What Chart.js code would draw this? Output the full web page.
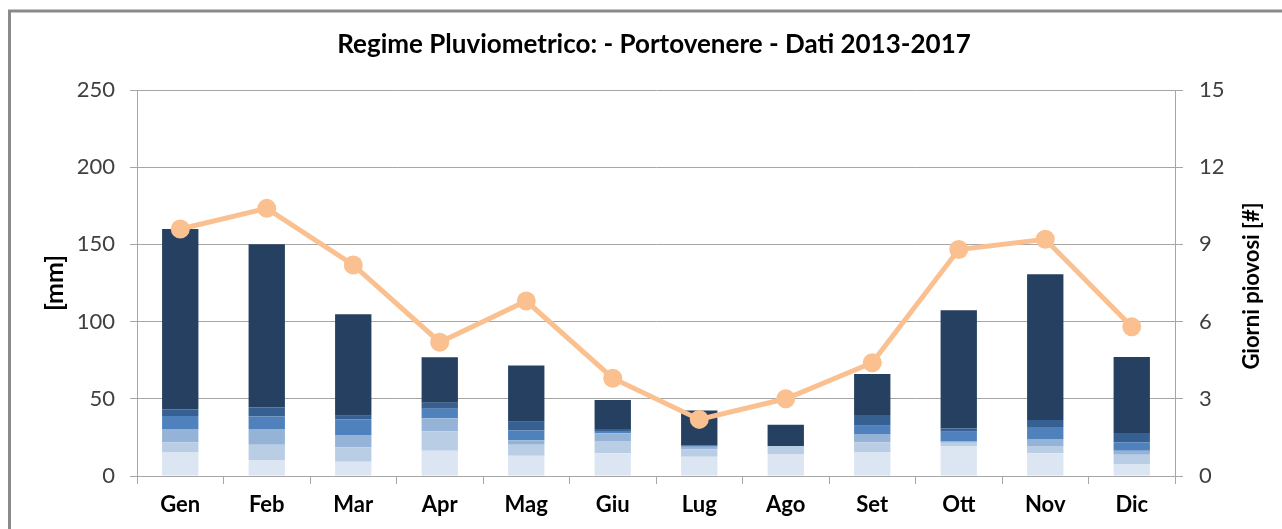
<!DOCTYPE html>
<html>
<head>
<meta charset="utf-8">
<script src="https://cdn.jsdelivr.net/npm/chart.js@4.4.1/dist/chart.umd.min.js"></script>
<style>
  html, body { margin: 0; padding: 0; background: #ffffff; }
  #wrap { position: relative; width: 1282px; height: 529px; }
</style>
</head>
<body>
<div id="wrap"><canvas id="c"></canvas></div>
<script>
// ---- Data ----
const months = ['Gen','Feb','Mar','Apr','Mag','Giu','Lug','Ago','Set','Ott','Nov','Dic'];

// stacked rainfall components [mm], bottom (lightest) to top (darkest)
const rainClass1 = [15.5, 10.4, 9.3, 16.4, 13.1, 14.7, 12.5, 14.2, 15.5, 19.4, 14.7, 7.8];
const rainClass2 = [6.3, 9.9, 9.3, 12.6, 7.1, 8.0, 4.8, 5.2, 6.3, 2.1, 4.7, 6.0];
const rainClass3 = [8.6, 10.2, 8.0, 8.4, 3.0, 5.0, 1.7, 0.0, 5.4, 1.1, 4.5, 2.6];
const rainClass4 = [8.4, 8.0, 10.1, 6.2, 6.3, 1.5, 0.5, 0.0, 5.4, 6.0, 7.8, 5.4];
const rainClass5 = [4.5, 6.0, 2.3, 3.9, 5.6, 1.3, 0.4, 0.0, 6.9, 2.4, 4.5, 6.0];
const rainClass6 = [116.6, 105.6, 65.7, 29.4, 36.5, 18.8, 22.5, 13.8, 26.6, 76.4, 94.4, 49.2];

// rainy days [#] (right axis)
const rainyDays = [9.6, 10.4, 8.2, 5.2, 6.8, 3.8, 2.2, 3.0, 4.4, 8.8, 9.2, 5.8];

// axis ticks
const mmTicks = [0, 50, 100, 150, 200, 250];
const dayTicks = [0, 3, 6, 9, 12, 15];

const titleText = 'Regime Pluviometrico: - Portovenere - Dati 2013-2017';
const leftAxisTitle = '[mm]';
const rightAxisTitle = 'Giorni piovosi [#]';

// ---- Styles ----
const barColors = ['#dce6f2', '#b9cde5', '#95b3d7', '#4f81bd', '#376092', '#254061'];
const rainSeries = [rainClass1, rainClass2, rainClass3, rainClass4, rainClass5, rainClass6];
const FONT = 'Lato, "Open Sans", "DejaVu Sans", sans-serif';
const gridColor = '#a6a6a6';

const barDatasets = rainSeries.map((vals, i) => ({
  type: 'bar',
  label: 'Classe ' + (i + 1),
  data: vals,
  backgroundColor: barColors[i],
  borderWidth: 0,
  yAxisID: 'y',
  stack: 'rain',
  categoryPercentage: 0.42,
  barPercentage: 1.0,
  order: 1
}));

const lineDataset = {
  type: 'line',
  label: rightAxisTitle,
  data: rainyDays,
  borderColor: '#fac090',
  backgroundColor: '#fac090',
  borderWidth: 5,
  pointRadius: 9.5,
  pointHoverRadius: 9.5,
  pointBorderWidth: 0,
  pointBackgroundColor: '#fac090',
  tension: 0,
  yAxisID: 'y1',
  order: 0
};

const decoPlugin = {
  id: 'deco',
  beforeDraw(chart) {
    const ctx = chart.ctx;
    ctx.save();
    ctx.fillStyle = '#ffffff';
    ctx.fillRect(0, 0, chart.width, chart.height);
    ctx.strokeStyle = '#8a8a8a';
    ctx.lineWidth = 3;
    ctx.beginPath();
    ctx.moveTo(9.5, chart.height + 5);
    ctx.lineTo(9.5, 11);
    ctx.lineTo(chart.width + 5, 11);
    ctx.stroke();
    ctx.restore();
  },
  afterDraw(chart) {
    const ctx = chart.ctx;
    ctx.save();
    ctx.font = 'bold 26px ' + FONT;
    ctx.fillStyle = '#000000';
    ctx.textAlign = 'center';
    ctx.textBaseline = 'middle';
    ctx.fillText(titleText, 654, 45);
    ctx.restore();

    ctx.save();
    ctx.translate(1252, 286);
    ctx.rotate(-Math.PI / 2);
    ctx.font = 'bold 22px ' + FONT;
    ctx.fillStyle = '#000000';
    ctx.textAlign = 'center';
    ctx.textBaseline = 'middle';
    ctx.fillText(rightAxisTitle, 0, 0);
    ctx.restore();
  }
};

new Chart(document.getElementById('c'), {
  data: {
    labels: months,
    datasets: [...barDatasets, lineDataset]
  },
  plugins: [decoPlugin],
  options: {
    responsive: true,
    maintainAspectRatio: false,
    animation: false,
    layout: { padding: { top: 90, left: 0, right: 0, bottom: 0 } },
    plugins: {
      legend: { display: false },
      tooltip: { enabled: false },
      title: { display: false }
    },
    scales: {
      x: {
        offset: true,
        stacked: true,
        grid: {
          offset: true,
          drawOnChartArea: false,
          drawTicks: true,
          tickLength: 8,
          color: gridColor
        },
        border: { display: true, color: gridColor, width: 1 },
        ticks: {
          color: '#000000',
          font: { family: FONT, size: 22, weight: 'bold' },
          padding: 8,
          maxRotation: 0
        },
        afterFit(scale) { scale.height = 53; }
      },
      y: {
        position: 'left',
        stacked: true,
        min: 0,
        max: 250,
        afterBuildTicks(scale) { scale.ticks = mmTicks.map(v => ({ value: v })); },
        grid: {
          color: gridColor,
          drawTicks: true,
          tickLength: 7
        },
        border: { display: true, color: gridColor, width: 1 },
        ticks: {
          color: '#404040',
          font: { family: FONT, size: 22 },
          padding: 15
        },
        title: {
          display: true,
          text: leftAxisTitle,
          color: '#000000',
          font: { family: FONT, size: 25, weight: 'bold' },
          padding: { top: 40, bottom: 0 }
        },
        afterFit(scale) { scale.width = 137; }
      },
      y1: {
        position: 'right',
        min: 0,
        max: 15,
        afterBuildTicks(scale) { scale.ticks = dayTicks.map(v => ({ value: v })); },
        grid: {
          drawOnChartArea: false,
          color: gridColor,
          drawTicks: true,
          tickLength: 8
        },
        border: { display: true, color: gridColor, width: 1 },
        ticks: {
          color: '#404040',
          font: { family: FONT, size: 22 },
          padding: 16
        },
        afterFit(scale) { scale.width = 107; }
      }
    }
  }
});
</script>
</body>
</html>
